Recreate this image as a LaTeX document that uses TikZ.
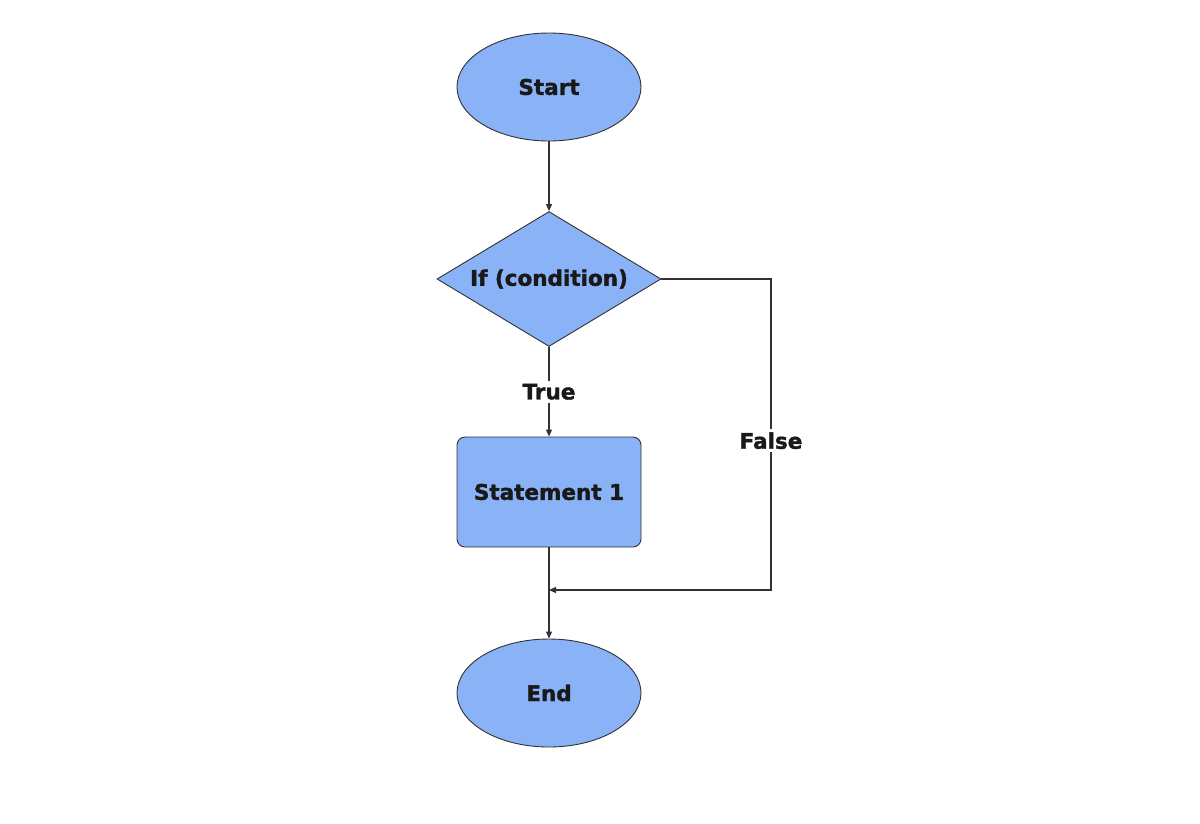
\documentclass[tikz,border=0pt]{standalone}
\usepackage{fontspec}
\setmainfont{DejaVu Sans}[BoldFeatures={FakeBold=1.6}]
\usetikzlibrary{shapes.geometric,arrows.meta}
\definecolor{boxfill}{RGB}{138,178,246}
\definecolor{linec}{RGB}{50,50,50}
\begin{document}
\begin{tikzpicture}[x=1pt,y=-1pt,
  every node/.style={font=\fontsize{21.5}{24}\selectfont\bfseries, text=black!90},
  shapebase/.style={draw=linec, line width=0.9pt, fill=boxfill, inner sep=0pt},
  terminal/.style={shapebase, ellipse, minimum width=184, minimum height=108},
  decision/.style={shapebase, diamond, aspect=1.66, minimum width=224, minimum height=135},
  process/.style={shapebase, rectangle, rounded corners=8pt, minimum width=184, minimum height=110},
  conn/.style={draw=linec, line width=1.1pt},
  arr/.style={conn, -{Triangle[length=7pt,width=6pt]}},
  lbl/.style={fill=white, inner sep=3pt}]
\useasboundingbox (0,0) rectangle (1200,823);
\node[terminal] (start) at (549,87) {Start};
\node[decision] (cond) at (549,279) {If (condition)};
\node[process] (stmt) at (549,492) {Statement 1};
\node[terminal] (stop) at (549,693) {End};
\coordinate (fr) at (771,279);
\coordinate (mg) at (549,590);
\draw[arr] (start) -- (cond);
\draw[arr] (cond.south) -- node[lbl, pos=0.5] (tl) {True} (stmt.north);
\draw[arr] (stmt.south) -- (stop.north);
\draw[arr] (cond.east) -- (fr) -- node[lbl, pos=0.52] (fl) {False} (fr |- mg) -- (mg);
\end{tikzpicture}
\end{document}
